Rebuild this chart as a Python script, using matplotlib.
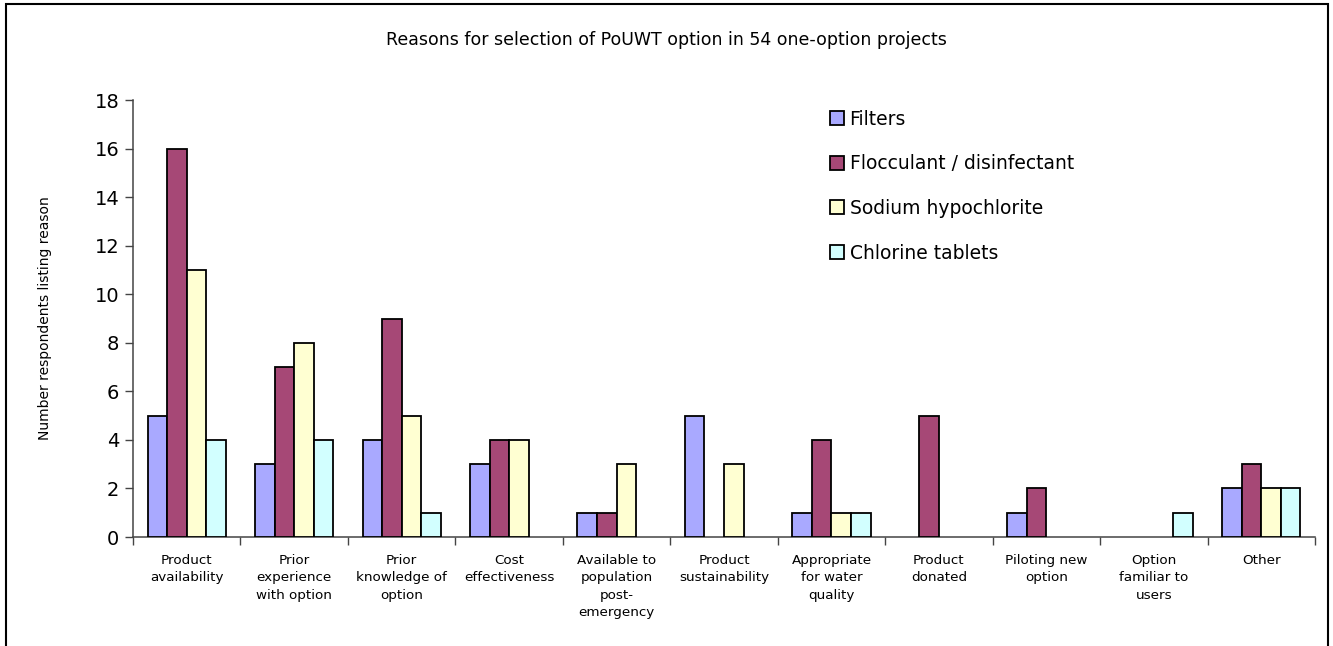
import numpy as np
import matplotlib
matplotlib.use('Agg')
import matplotlib.pyplot as plt
from matplotlib.patches import Rectangle

#-------------------------------------------------------------------------#
# Data                                                                    #
#-------------------------------------------------------------------------#
categories  = ['Product\navailability', 'Prior\nexperience\nwith option',
               'Prior\nknowledge of\noption', 'Cost\neffectiveness',
               'Available to\npopulation\npost-\nemergency',
               'Product\nsustainability', 'Appropriate\nfor water\nquality',
               'Product\ndonated', 'Piloting new\noption',
               'Option\nfamiliar to\nusers', 'Other']
series      = ['Filters', 'Flocculant / disinfectant',
               'Sodium hypochlorite', 'Chlorine tablets']
filters     = [5, 3, 4, 3, 1, 5, 1, 0, 1, 0, 2]
flocculant  = [16, 7, 9, 4, 1, 0, 4, 5, 2, 0, 3]
sodium      = [11, 8, 5, 4, 3, 3, 1, 0, 0, 0, 2]
chlorine    = [4, 4, 1, 0, 0, 0, 1, 0, 0, 1, 2]
colors      = ['#a9a9ff', '#a64876', '#ffffd2', '#d2ffff']

#-------------------------------------------------------------------------#
# Figure                                                                  #
#-------------------------------------------------------------------------#
plt.rcParams['font.family'] = 'DejaVu Sans'
fig = plt.figure(figsize=(13.33, 6.46), dpi=100)
ax  = fig.add_axes([0.0998, 0.1687, 0.8867, 0.6765])

x   = np.arange(len(categories))
w   = 1.0/5.5
for i, (vals, lab, col) in enumerate(zip([filters, flocculant, sodium, chlorine],
                                         series, colors)):
    # zero counts get no bar at all
    h = np.where(np.array(vals) == 0, np.nan, vals)
    ax.bar(x + (i - 1.5)*w, h, width=w, color=col, edgecolor='black',
           linewidth=1.3, label=lab, zorder=3)

ax.set_xlim(-0.5, len(categories) - 0.5)
ax.set_ylim(0, 18)
ax.set_yticks(np.arange(0, 19, 2))
ax.tick_params(axis='y', labelsize=14, length=6, width=1, color='#444444',
               pad=4)
ax.set_xticks(x)
ax.set_xticklabels(categories, fontsize=9.7, linespacing=1.45)
ax.set_xticks(np.arange(-0.5, len(categories)), minor=True)
ax.tick_params(axis='x', which='major', length=0, pad=12)
ax.tick_params(axis='x', which='minor', length=6, width=1, color='#444444')
for s in ['top', 'right']:
    ax.spines[s].set_visible(False)
for s in ['left', 'bottom']:
    ax.spines[s].set_color('#444444')
    ax.spines[s].set_linewidth(1.1)

fig.text(0.034, 0.5077, 'Number respondents listing reason', rotation=90,
         fontsize=10, ha='center', va='center')
fig.text(0.5, 0.938, 'Reasons for selection of PoUWT option in 54 one-option projects',
         fontsize=12.5, ha='center', va='center')

fig.legend(loc='upper left', bbox_to_anchor=(0.6155, 0.845), frameon=False,
           fontsize=13.5, handlelength=0.75, handleheight=0.75,
           handletextpad=0.3, labelspacing=1.37, borderpad=0)

# outer chart frame
fig.patches.append(Rectangle((6/1333, -0.1), 1322/1333, 1.1 - 4/646,
                             transform=fig.transFigure, fill=False,
                             edgecolor='black', linewidth=1.5))

fig.savefig('out.png', dpi=100)
